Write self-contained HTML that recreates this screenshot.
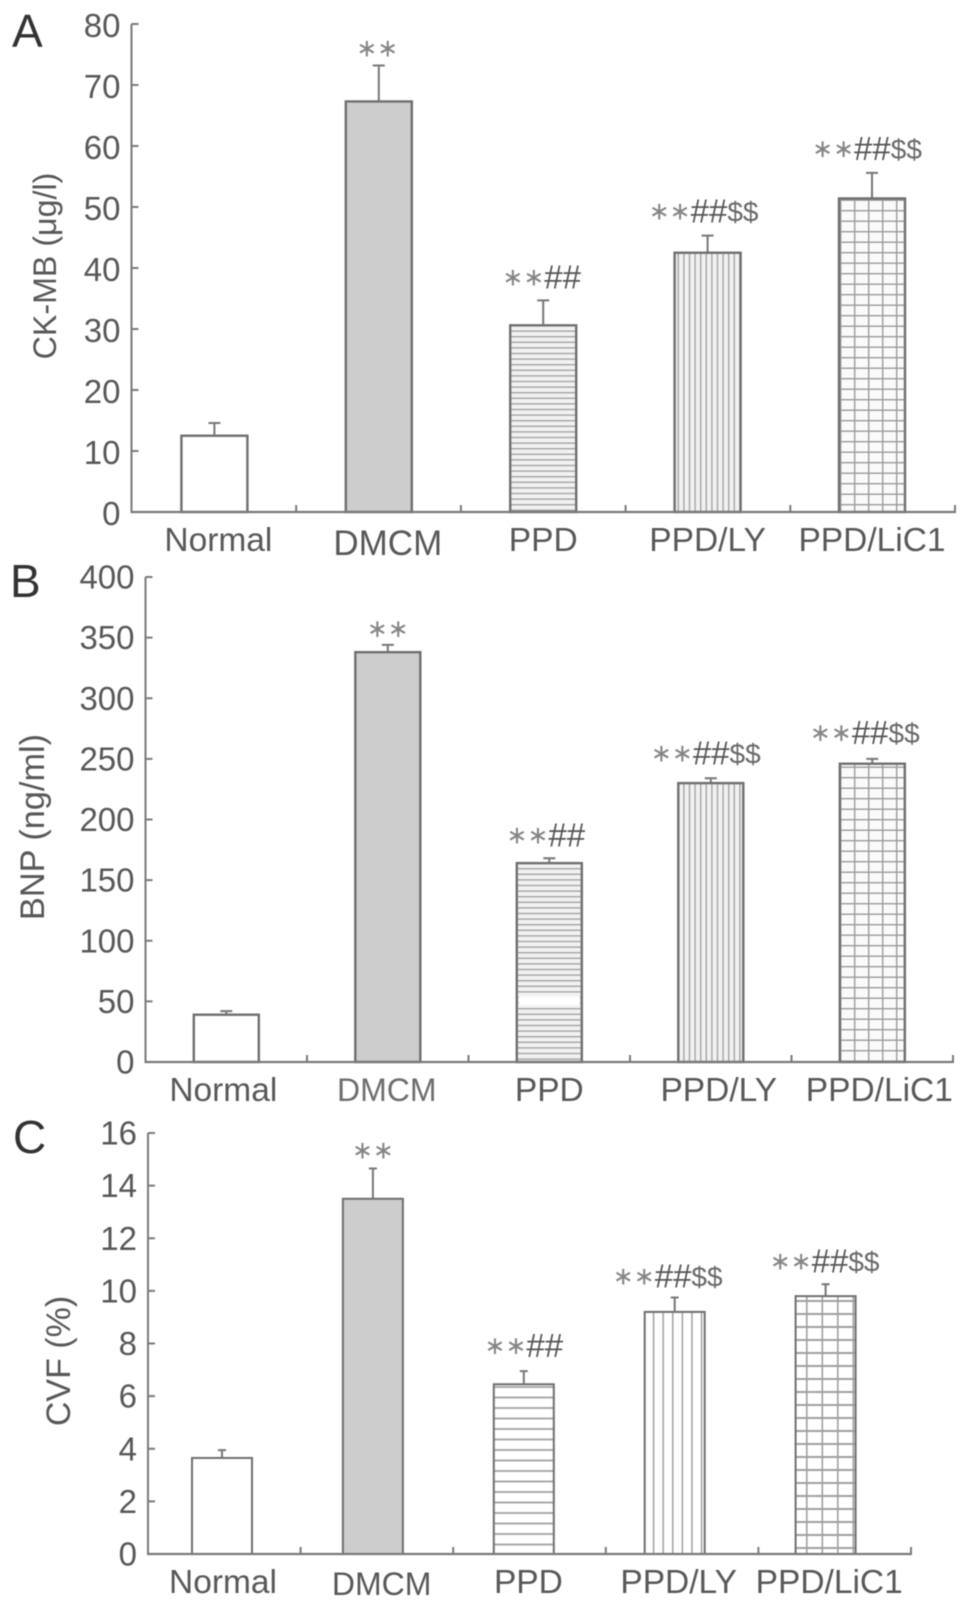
<!DOCTYPE html>
<html lang="en">
<head>
<meta charset="utf-8">
<title>CK-MB, BNP and CVF bar charts</title>
<style>
html,body{margin:0;padding:0;background:#fff;width:969px;height:1606px;overflow:hidden}
svg{display:block;filter:blur(.55px)}
text{font-family:"Liberation Sans","DejaVu Sans",sans-serif;fill:#585858}
</style>
</head>
<body>
<svg id="figure" xmlns="http://www.w3.org/2000/svg" width="969" height="1606" viewBox="0 0 969 1606">
<defs>
<pattern id="hA" width="10" height="5.6" patternUnits="userSpaceOnUse"><rect width="10" height="5.6" fill="#f1f1f1"/><rect y="0" width="10" height="1.4" fill="#a5a5a5"/></pattern>
<pattern id="vA" width="5.6" height="10" patternUnits="userSpaceOnUse"><rect width="5.6" height="10" fill="#f1f1f1"/><rect x="0" width="1.4" height="10" fill="#a5a5a5"/></pattern>
<pattern id="cA" width="14" height="10.5" patternUnits="userSpaceOnUse"><rect width="14" height="10.5" fill="#fafafa"/><rect width="14" height="1.4" fill="#9c9c9c"/><rect width="1.4" height="10.5" fill="#9c9c9c"/></pattern>
<pattern id="hC" width="10" height="10.5" patternUnits="userSpaceOnUse"><rect width="10" height="10.5" fill="#fff"/><rect width="10" height="2" fill="#aaa"/></pattern>
<pattern id="vC" width="9.6" height="10" patternUnits="userSpaceOnUse"><rect width="9.6" height="10" fill="#fff"/><rect width="1.5" height="10" fill="#a0a0a0"/></pattern>
<pattern id="cC" width="15.5" height="13" patternUnits="userSpaceOnUse"><rect width="15.5" height="13" fill="#fff"/><rect width="15.5" height="2" fill="#a0a0a0"/><rect width="1.6" height="13" fill="#a0a0a0"/></pattern>
</defs>
</svg>
<script>
// ---------- Data ----------
const categories = ['Normal', 'DMCM', 'PPD', 'PPD/LY', 'PPD/LiC1'];
const significance = ['', '∗∗', '∗∗##', '∗∗##$$', '∗∗##$$'];

const ckmbValues = [12.5, 67.3, 30.6, 42.5, 51.4];
const ckmbErrors = [2.1, 5.9, 4.1, 2.8, 4.2];
const ckmbTicks = [0, 10, 20, 30, 40, 50, 60, 70, 80];

const bnpValues = [39, 338, 164, 230, 246];
const bnpErrors = [3, 6, 4, 4, 4];
const bnpTicks = [0, 50, 100, 150, 200, 250, 300, 350, 400];

const cvfValues = [3.65, 13.5, 6.45, 9.2, 9.8];
const cvfErrors = [0.3, 1.15, 0.5, 0.55, 0.45];
const cvfTicks = [0, 2, 4, 6, 8, 10, 12, 14, 16];

// ---------- Panel geometry ----------
const panels = [
  {id:'a', letter:'A', letterX:12, letterY:47, title:'CK-MB (μg/l)', titleX:56, titleY:266, titleSize:32.2,
   values:ckmbValues, errors:ckmbErrors, ticks:ckmbTicks,
   left:131.5, right:955, top:24, bottom:512, barFirst:214.4, barLast:872, barW:66, capW:10, stroke:2.4, tickDy:13,
   fills:['#fff','#cdcdcd','url(#hA)','url(#vA)','url(#cA)'],
   labelY:551, labelNudge:[4,9,0,0,0], dmcmSize:35, dmcmY:555, dmcmFill:'#585858',
   annotGap:[0,17,23,24,24], annotNudge:[0,-1.5,-1.5,-4,-5]},
  {id:'b', letter:'B', letterX:10, letterY:597, title:'BNP (ng/ml)', titleX:44, titleY:827, titleSize:34.3,
   values:bnpValues, errors:bnpErrors, ticks:bnpTicks,
   left:145.5, right:953, top:577, bottom:1062, barFirst:226.3, barLast:872.3, barW:65, capW:10, stroke:2.4, tickDy:11.5,
   fills:['#fff','#cdcdcd','url(#hA)','url(#vA)','url(#cA)'],
   labelY:1101, labelNudge:[-3,-1,0,8,7], dmcmSize:32, dmcmY:1101, dmcmFill:'#6e6e6e',
   annotGap:[0,16,23,25,26], annotNudge:[0,0,-3.5,-5,-7.5], gap:[47,54]},
  {id:'c', letter:'C', letterX:13, letterY:1153, title:'CVF (%)', titleX:70, titleY:1361, titleSize:34,
   values:cvfValues, errors:cvfErrors, ticks:cvfTicks,
   left:148, right:911, top:1133, bottom:1554, barFirst:222, barLast:825.6, barW:60, capW:6, stroke:2, tickDy:11.5,
   fills:['#fff','#cdcdcd','url(#hC)','url(#vC)','url(#cC)'],
   labelY:1593, labelNudge:[1,8.7,4.6,4,3.6], dmcmSize:32, dmcmY:1595, dmcmFill:'#585858',
   annotGap:[0,18,25,21,23], annotNudge:[0,0,0,-7,-1]}
];

const svg = document.getElementById('figure');
const NS = 'http://www.w3.org/2000/svg';
function make(tag, attrs, parent, content) {
  const node = document.createElementNS(NS, tag);
  Object.keys(attrs).forEach(function (k) { node.setAttribute(k, attrs[k]); });
  if (content !== undefined) node.textContent = content;
  parent.appendChild(node);
  return node;
}

// Each annotation symbol has its own size and tone, as in the figure.
const glyphStyles = {
  '∗': {size:25, fill:'#858585', dy:-3},
  '#': {size:33, fill:'#555555', dy:0},
  '$': {size:28, fill:'#6a6a6a', dy:-1}
};
function fillAnnotation(note, str) {
  let prevDy = 0;
  Array.from(str).forEach(function (ch) {
    const s = glyphStyles[ch];
    make('tspan', {'font-size':s.size, style:'fill:' + s.fill, dy:s.dy - prevDy}, note, ch);
    prevDy = s.dy;
  });
}

panels.forEach(function (p) {
  const n = categories.length;
  const maxTick = p.ticks[p.ticks.length - 1];
  const yScale = function (v) { return p.bottom - (v / maxTick) * (p.bottom - p.top); };
  const band = function (i) { return p.left + (i / n) * (p.right - p.left); };
  const center = function (i) { return p.barFirst + (i / (n - 1)) * (p.barLast - p.barFirst); };

  const g = make('g', {}, svg);
  
  

  const letter = make('text', {x:p.letterX, y:p.letterY, 'font-size':46, style:'fill:#333'}, g, p.letter);
  
  

  const title = make('text', {transform:'translate(' + p.titleX + ' ' + p.titleY + ') rotate(-90)', 'text-anchor':'middle', 'font-size':p.titleSize}, g, p.title);
  
  

  // bars first so the axes sit on top
  p.values.forEach(function (v, i) {
    const cx = center(i);
    const yTop = yScale(v);
    const yErr = yScale(v + p.errors[i]);

    const errLine = make('path', {d:'M' + cx + ' ' + yTop + 'V' + yErr + 'M' + (cx - p.capW / 2 - 1) + ' ' + yErr + 'H' + (cx + p.capW / 2 + 1), stroke:'#777', 'stroke-width':2, fill:'none'}, g);
    
    

    const bar = make('rect', {x:cx - p.barW / 2, y:yTop, width:p.barW, height:p.bottom - yTop, fill:p.fills[i], stroke:'#6f6f6f', 'stroke-width':p.stroke}, g);
    
    

    if (p.gap && i === 2) {
      const gapRect = make('rect', {x:cx - p.barW / 2 + 2, y:yScale(p.gap[1]), width:p.barW - 4, height:yScale(p.gap[0]) - yScale(p.gap[1]), fill:'#fff'}, g);
      
      
    }

    if (significance[i]) {
      const note = make('text', {x:cx + p.annotNudge[i], y:yErr - p.annotGap[i] + 11, 'text-anchor':'middle'}, g);
      
      
      fillAnnotation(note, significance[i]);
    }

    const isDmcm = categories[i] === 'DMCM';
    const label = make('text', {x:cx + p.labelNudge[i], y:isDmcm ? p.dmcmY : p.labelY, 'text-anchor':'middle', 'font-size':isDmcm ? p.dmcmSize : 33.5, style:isDmcm ? 'fill:' + p.dmcmFill : ''}, g, categories[i]);
    
    
  });

  // axes
  const yAxis = make('line', {x1:p.left, x2:p.left, y1:p.top, y2:p.bottom, stroke:'#7a7a7a', 'stroke-width':2}, g);
  
  

  const xAxis = make('line', {x1:p.left - 1, x2:p.right + 1, y1:p.bottom, y2:p.bottom, stroke:'#7a7a7a', 'stroke-width':2.2}, g);
  
  

  p.ticks.forEach(function (t) {
    const y = yScale(t);
    const tick = make('line', {x1:p.left, x2:p.left + 7, y1:y, y2:y, stroke:'#7a7a7a', 'stroke-width':2}, g);
    
    
    const tl = make('text', {x:p.left - 11, y:y + p.tickDy, 'text-anchor':'end', 'font-size':33}, g, String(t));
    
    
  });

  for (let i = 1; i <= n; i++) {
    const xt = make('line', {x1:band(i), x2:band(i), y1:p.bottom, y2:p.bottom - 7, stroke:'#7a7a7a', 'stroke-width':2}, g);
    
    
  }
});
</script>
</body>
</html>
